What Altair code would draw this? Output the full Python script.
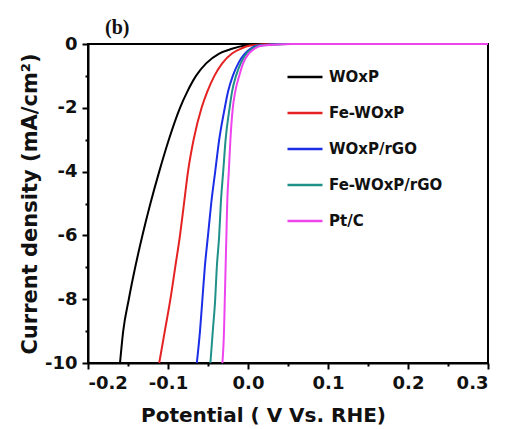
import altair as alt
import pandas as pd

series = ["WOxP", "Fe-WOxP", "WOxP/rGO", "Fe-WOxP/rGO", "Pt/C"]
colors = ["#000000", "#e52222", "#1a2ee8", "#20908a", "#ee44ee"]

current = [-10, -9, -8, -7, -6, -5, -4, -3, -2, -1.5, -1, -0.6, -0.3, -0.15, -0.05, 0, 0]
pot_woxp = [-0.160, -0.156, -0.149, -0.141, -0.132, -0.122, -0.111, -0.099, -0.085, -0.076, -0.065, -0.052, -0.036, -0.020, -0.004, 0.015, 0.3]
pot_fe_woxp = [-0.111, -0.104, -0.097, -0.091, -0.085, -0.080, -0.075, -0.068, -0.058, -0.051, -0.042, -0.032, -0.020, -0.009, 0.003, 0.028, 0.3]
pot_woxp_rgo = [-0.064, -0.060, -0.057, -0.054, -0.050, -0.046, -0.041, -0.036, -0.029, -0.025, -0.019, -0.012, -0.004, 0.003, 0.012, 0.045, 0.3]
pot_fe_woxp_rgo = [-0.047, -0.044, -0.041, -0.039, -0.036, -0.034, -0.031, -0.028, -0.023, -0.020, -0.015, -0.009, -0.002, 0.005, 0.015, 0.050, 0.3]
pot_ptc = [-0.032, -0.030, -0.029, -0.028, -0.027, -0.026, -0.024, -0.022, -0.019, -0.016, -0.011, -0.006, 0.001, 0.008, 0.018, 0.055, 0.3]

x_ticks = [-0.2, -0.15, -0.1, -0.05, 0.0, 0.05, 0.1, 0.15, 0.2, 0.25, 0.3]
y_ticks = [-10, -9, -8, -7, -6, -5, -4, -3, -2, -1, 0]

rows = []
for name, pots in zip(series, [pot_woxp, pot_fe_woxp, pot_woxp_rgo, pot_fe_woxp_rgo, pot_ptc]):
    for i, (p, c) in enumerate(zip(pots, current)):
        rows.append({"series": name, "idx": i, "potential": p, "current": c})
df = pd.DataFrame(rows)

FONT = "DejaVu Sans"

x_major = "abs(round(datum.value*100)) % 10 == 0"
y_major = "abs(round(datum.value)) % 2 == 0"

chart = alt.Chart(df).mark_line(strokeWidth=2, interpolate="monotone").encode(
    x=alt.X("potential:Q",
            scale=alt.Scale(domain=[-0.2, 0.3], nice=False, zero=False),
            axis=alt.Axis(title="Potential ( V Vs. RHE)", values=x_ticks, format=".1f",
                          labelExpr=f"{x_major} ? replace(datum.label, '\u2212', '-') : ''",
                          tickSize={"condition": {"test": x_major, "value": 6}, "value": 3},
                          labelOverlap=False, titleX=175, titleAlign="center")),
    y=alt.Y("current:Q",
            scale=alt.Scale(domain=[-10, 0], nice=False),
            axis=alt.Axis(title="Current density (mA/cm²)", values=y_ticks, format="d",
                          labelExpr=f"{y_major} ? replace(datum.label, '\u2212', '-') : ''",
                          tickSize={"condition": {"test": y_major, "value": 6}, "value": 3},
                          labelOverlap=False)),
    color=alt.Color("series:N",
                    scale=alt.Scale(domain=series, range=colors),
                    sort=series,
                    legend=alt.Legend(title=None, orient="none", legendX=198, legendY=14,
                                      symbolType="stroke", symbolSize=1225, symbolStrokeWidth=2.5,
                                      labelFont=FONT, labelFontWeight="bold", labelFontSize=15,
                                      labelColor="#111111", labelOffset=5, rowPadding=9,
                                      padding=0)),
    order=alt.Order("idx:Q"),
    detail="series:N",
).properties(
    width=400,
    height=319,
    title=alt.TitleParams("(b)", anchor="start", frame="group", dx=17, offset=-3,
                          font="Liberation Serif", fontSize=20, fontWeight="bold",
                          color="#111111"),
    padding={"left": 11, "top": 10, "right": 0, "bottom": 0},
).configure_view(
    stroke="black", strokeWidth=2
).configure_axis(
    domainColor="black", domainWidth=2, tickColor="black", tickWidth=2,
    labelFont=FONT, labelFontWeight="bold", labelFontSize=18, labelColor="#111111",
    labelPadding=5, grid=False,
    titleFont=FONT, titleFontWeight="bold", titleColor="#111111",
).configure_axisX(
    titleFontSize=20, titlePadding=13
).configure_axisY(
    titleFontSize=21, titlePadding=4
)

chart.save("out.html", embed_options={"renderer": "svg", "actions": False})
